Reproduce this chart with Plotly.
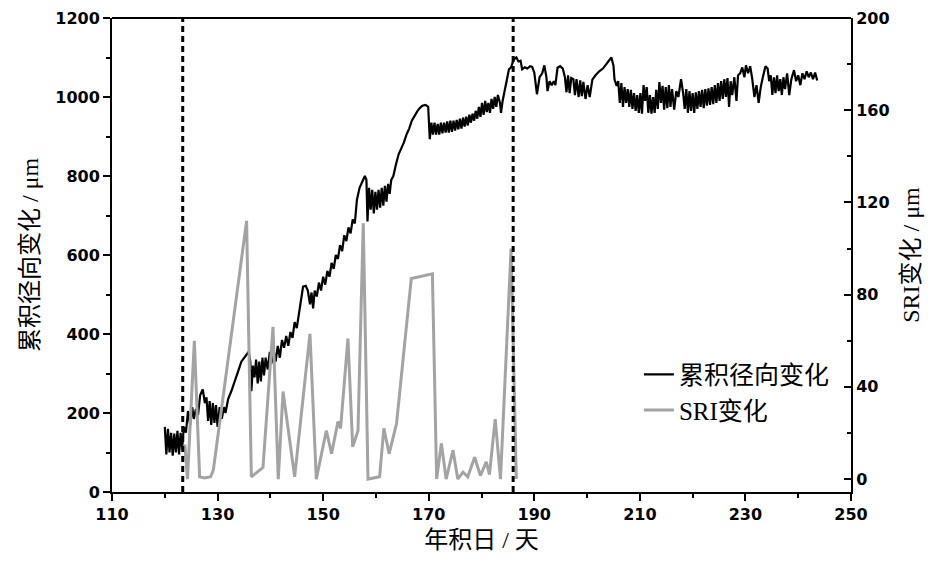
import plotly.graph_objects as go
from plotly.subplots import make_subplots

# cumulative radial change (left axis)
radial_days = [
    120.0, 120.3, 120.6, 120.9, 121.2, 121.5, 121.8, 122.1, 122.4, 122.7, 123.0, 123.3, 123.6,
    124.0, 124.4, 124.8, 125.2, 125.5, 125.9, 126.3, 126.7, 127.2, 127.6, 127.9, 128.2, 128.5,
    128.8, 129.1, 129.4, 129.7, 130.0, 130.4, 130.8, 131.2, 131.5, 132.0, 132.6, 133.3, 134.0,
    134.5, 135.0, 135.5, 135.9, 136.2, 136.4, 136.7, 137.0, 137.3, 137.6, 137.9, 138.2, 138.5,
    138.8, 139.1, 139.5, 139.9, 140.2, 140.6, 141.0, 141.4, 141.8, 142.2, 142.6, 143.0, 143.4,
    143.8, 144.2, 144.6, 145.0, 145.4, 145.8, 146.2, 146.7, 147.1, 147.5, 147.8, 148.1, 148.4,
    148.8, 149.2, 149.6, 150.0, 150.4, 150.8, 151.2, 151.6, 152.0, 152.4, 152.8, 153.2, 153.6,
    154.0, 154.4, 154.8, 155.2, 155.6, 156.0, 156.4, 156.9, 157.4, 157.9, 158.2, 158.4, 158.7,
    159.0, 159.3, 159.6, 159.9, 160.2, 160.5, 160.8, 161.1, 161.4, 161.7, 162.0, 162.3, 162.6,
    162.9, 163.3, 163.8, 164.3, 164.8, 165.3, 165.8, 166.3, 166.8, 167.3, 167.8, 168.3, 168.8,
    169.4, 169.9, 170.2, 170.5, 170.8, 171.1, 171.4, 171.7, 172.0, 172.3, 172.6, 172.9, 173.2,
    173.5, 173.8, 174.1, 174.4, 174.7, 175.0, 175.3, 175.6, 175.9, 176.2, 176.5, 176.8, 177.1,
    177.4, 177.7, 178.0, 178.3, 178.6, 178.9, 179.2, 179.5, 179.8, 180.1, 180.4, 180.7, 181.0,
    181.3, 181.6, 181.9, 182.2, 182.5, 182.8, 183.1, 183.5, 183.7, 184.0, 184.4, 184.8, 185.2,
    185.6, 186.1, 186.6, 187.0, 187.4, 187.7, 188.2, 188.7, 189.2, 189.6, 190.0, 190.5, 191.0,
    191.5, 191.9, 192.3, 192.5, 192.9, 193.3, 193.7, 194.0, 194.4, 194.9, 195.4, 195.8, 196.1,
    196.4, 196.7, 197.0, 197.4, 197.7, 198.0, 198.4, 198.7, 199.0, 199.3, 199.7, 200.1, 200.5,
    201.0, 201.6, 202.3, 203.0, 203.6, 204.1, 204.6, 205.0, 205.2, 205.6, 205.9, 206.2, 206.5,
    206.8, 207.1, 207.4, 207.7, 208.0, 208.3, 208.6, 208.9, 209.2, 209.5, 209.8, 210.1, 210.4,
    210.7, 211.0, 211.3, 211.6, 211.9, 212.2, 212.5, 212.8, 213.1, 213.4, 213.7, 214.0, 214.3,
    214.6, 214.9, 215.2, 215.5, 215.8, 216.1, 216.5, 216.9, 217.3, 217.8, 218.2, 218.5, 218.8,
    219.1, 219.4, 219.7, 220.0, 220.3, 220.6, 220.9, 221.2, 221.5, 221.8, 222.1, 222.4, 222.7,
    223.0, 223.3, 223.6, 223.9, 224.2, 224.5, 224.8, 225.1, 225.4, 225.7, 226.0, 226.3, 226.6,
    226.9, 227.2, 227.5, 227.9, 228.3, 228.6, 229.0, 229.4, 229.8, 230.1, 230.5, 230.9, 231.3,
    231.7, 232.1, 232.5, 232.9, 233.3, 233.8, 234.2, 234.5, 234.8, 235.1, 235.4, 235.7, 236.0,
    236.3, 236.6, 236.9, 237.2, 237.5, 237.9, 238.3, 238.7, 239.2, 239.6, 240.0, 240.4, 240.8,
    241.2, 241.6, 242.0, 242.4, 242.8, 243.2, 243.6,
]
radial_um = [
    165, 95, 160, 100, 150, 92, 148, 100, 155, 95, 150, 110, 165,
    150, 205, 170, 215, 185, 210, 195, 245, 260, 225, 240, 180, 230,
    170, 225, 175, 220, 165, 215, 185, 215, 200, 235, 255, 285, 310,
    330, 340, 350, 355, 330, 255, 320, 290, 335, 275, 330, 280, 340,
    295, 340, 310, 355, 325, 360, 330, 370, 340, 385, 365, 395, 370,
    405, 390, 430, 415, 450, 490, 520, 522, 510, 475, 505, 465, 510,
    495, 530, 510, 545, 525, 560, 545, 580, 565, 600, 590, 625, 610,
    650, 635, 670, 655, 690, 680, 740, 770, 785, 800, 790, 685, 770,
    715, 765, 705, 760, 715, 765, 720, 770, 725, 775, 735, 780, 755,
    790, 800, 830, 855, 870, 885, 905, 920, 940, 952, 963, 972, 978,
    980, 975, 893, 935, 905, 935, 905, 932, 905, 935, 908, 935, 910,
    938, 910, 940, 912, 940, 915, 942, 918, 945, 920, 948, 925, 950,
    928, 955, 935, 958, 940, 965, 945, 975, 950, 985, 955, 990, 962,
    985, 960, 995, 970, 1000, 975, 1005, 985, 960, 990, 1020, 1050, 1070,
    1075, 1095, 1100, 1090, 1092, 1070, 1075, 1072, 1078, 1076, 1062, 1007, 1050,
    1060, 1080, 1050, 1015, 1040, 1030, 1040, 1030, 1074, 1078, 1072, 1050, 1012,
    1055, 1010, 1048, 1045, 1005, 1045, 1000, 1042, 1002, 1038, 995, 1030, 1000,
    1044, 1055, 1065, 1072, 1082, 1090, 1100, 1080, 1044, 1028, 1040, 985, 1035,
    975, 1025, 985, 1020, 975, 1018, 970, 1010, 965, 1005, 960, 1010, 958,
    1030, 990, 1025, 960, 1005, 958, 1000, 960, 1018, 970, 1038, 985, 1028,
    968, 1025, 972, 1030, 975, 1020, 968, 1015, 1000, 1045, 1010, 970, 1020,
    960, 1015, 965, 1010, 960, 1012, 970, 1015, 975, 1018, 972, 1020, 978,
    1022, 980, 1025, 982, 1030, 985, 1035, 990, 1040, 995, 1045, 1000, 1048,
    975, 1040, 1005, 1050, 990, 1055, 1060, 1075, 1050, 1080, 1060, 1078, 1045,
    1000, 1030, 985, 1025, 1050, 1078, 1072, 1040, 1055, 1005, 1050, 1010, 1055,
    1015, 1045, 1005, 1050, 1020, 1060, 1005, 1045, 1068, 1040, 1055, 1030, 1060,
    1045, 1065, 1050, 1062, 1045, 1062, 1042,
]

# SRI change (right axis)
sri_days = [
    123.8, 124.3, 125.6, 126.6, 127.5, 128.7, 129.2, 135.5, 136.4, 138.6, 140.5, 141.5,
    142.4, 144.6, 147.5, 148.7, 150.6, 151.6, 152.8, 153.3, 154.7, 155.6, 156.6, 157.6,
    158.5, 160.7, 161.5, 162.5, 163.9, 166.7, 170.7, 171.5, 172.4, 173.3, 174.6, 175.5,
    176.5, 177.4, 178.7, 179.8, 180.9, 181.5, 182.6, 183.6, 185.6, 186.6,
]
sri_um = [
    15, 0, 60, 1, 0.5, 1, 4, 112, 1, 5, 66, 0,
    38, 1, 63, 0, 21, 11, 25, 22, 61, 14, 21, 111,
    0, 1, 22, 11, 24, 87, 89, 0, 15.5, 0, 12.5, 0,
    3, 1, 9.5, 1.5, 7.5, 2, 26, 0, 100, 0,
]

# dashed markers for the growth period
period_days = [123.4, 186.0]

CJK = 'Liberation Serif, Noto Sans CJK SC'
TICK_FONT = dict(family='DejaVu Sans', size=16, color='black', weight='bold')
TITLE_FONT = dict(family=CJK, size=24, color='black')

fig = make_subplots(specs=[[{'secondary_y': True}]])
fig.add_trace(go.Scatter(x=radial_days, y=radial_um, mode='lines', name='累积径向变化',
                         line=dict(color='black', width=2.2)), secondary_y=False)
fig.add_trace(go.Scatter(x=sri_days, y=sri_um, mode='lines', name='SRI变化',
                         line=dict(color='#a3a3a3', width=3)), secondary_y=True)

for d in period_days:
    fig.add_vline(x=d, line=dict(color='black', width=3, dash='6px,4px'))

# top border of the frame
fig.add_shape(type='line', xref='paper', yref='paper', x0=0, x1=1, y0=1, y1=1,
              line=dict(color='black', width=2))

axis_common = dict(showline=True, linecolor='black', linewidth=2, showgrid=False,
                   zeroline=False, tickfont=TICK_FONT, ticklen=7, tickwidth=2,
                   tickcolor='black', automargin=False, ticklabeloverflow='allow')

fig.update_xaxes(domain=[0, 1], range=[110, 250], tick0=110, dtick=20, ticks='outside',
                 minor=dict(dtick=10, ticks='outside', ticklen=4, tickwidth=2, tickcolor='black'),
                 title=dict(text='年积日 / 天', font=TITLE_FONT, standoff=8),
                 **axis_common)
fig.update_yaxes(range=[0, 1200], dtick=200, ticks='outside',
                 minor=dict(dtick=100, ticks='outside', ticklen=4, tickwidth=2, tickcolor='black'),
                 title=dict(text='累积径向变化 / μm', font=TITLE_FONT, standoff=10),
                 secondary_y=False, **axis_common)
fig.update_yaxes(range=[-5.6, 200], tick0=0, dtick=40, ticks='inside',
                 minor=dict(dtick=20, ticks='inside', ticklen=4, tickwidth=2, tickcolor='black'),
                 title=dict(text='SRI变化 / μm', font=TITLE_FONT, standoff=14),
                 secondary_y=True, **axis_common)

# page body keeps an 8px margin, so the figure is shrunk to fit the window
fig.update_layout(
    width=929, height=547,
    margin=dict(l=104, r=86, t=10, b=63, autoexpand=False),
    plot_bgcolor='white', paper_bgcolor='white',
    legend=dict(x=0.713, y=0.296, xanchor='left', yanchor='top', bgcolor='rgba(0,0,0,0)',
                font=dict(family=CJK, size=25, color='black'), tracegroupgap=0),
)

fig.write_html('out.html')
